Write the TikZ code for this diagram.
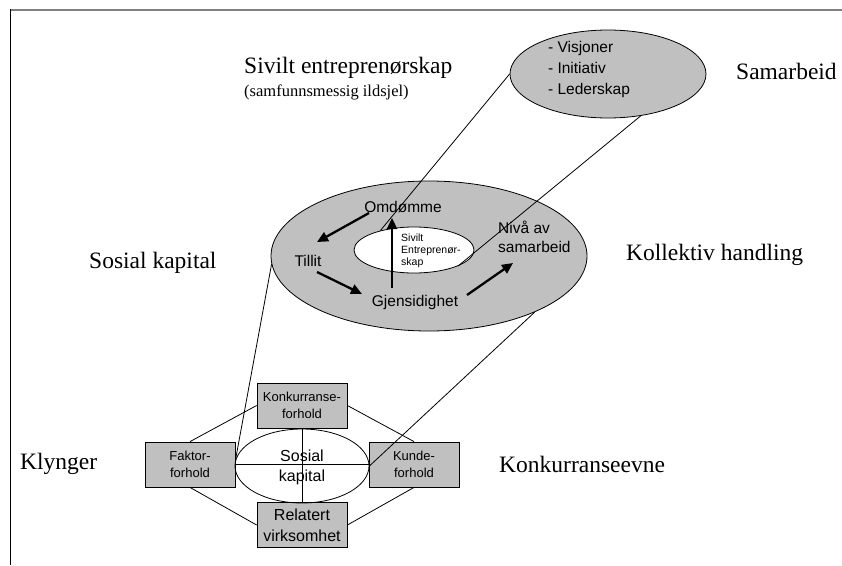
\documentclass[tikz,border=0pt]{standalone}
\usepackage{fontspec}
\setmainfont{Liberation Serif}
\newfontfamily\arial{Liberation Sans}
\usetikzlibrary{shapes.geometric,arrows.meta}
\definecolor{shade}{HTML}{C0C0C0}
\definecolor{rule}{HTML}{808080}
\tikzset{
  serif label/.style={anchor=west,inner sep=0pt,font=\fontsize{23.5}{26}\selectfont},
  sans/.style={inner sep=0pt,font=\arial\fontsize{15.5}{19}\selectfont},
  filled oval/.style={ellipse,draw,fill=shade,line width=0.8pt,inner sep=0pt},
  factor box/.style={draw,fill=shade,line width=0.8pt,minimum width=90pt,minimum height=45pt,
    inner sep=0pt,align=center,font=\arial\fontsize{13}{17}\selectfont},
  thin link/.style={line width=0.8pt},
  cycle arrow/.style={line width=2.3pt,-{Triangle[length=11pt,width=10pt]}},
}
\begin{document}
\begin{tikzpicture}[x=1pt,y=-1pt]
\useasboundingbox (0,0) rectangle (842,565);

% frame
\draw[line width=2pt,color=rule] (10,9.5) -- (842,9.5);
\draw[line width=1.5pt] (10.5,9) -- (10.5,565);

% side headings
\node[serif label] (hsivilt) at (244,68) {Sivilt entreprenørskap};
\node[serif label,font=\fontsize{16.5}{20}\selectfont] (hsivsub) at (244,92) {(samfunnsmessig ildsjel)};
\node[serif label] (hsamarbeid) at (736,71) {Samarbeid};
\node[serif label] (hsosial) at (89,263) {Sosial kapital};
\node[serif label] (hkollektiv) at (626,255) {Kollektiv handling};
\node[serif label] (hklynger) at (20,464) {Klynger};
\node[serif label] (hevne) at (499,464) {Konkurranseevne};

% top oval
\node[filled oval,minimum width=196pt,minimum height=88pt] (top) at (608,74) {};
\node[sans,align=left,font=\arial\fontsize{15.5}{21}\selectfont] (toptext) at (589,69) {- Visjoner\\- Initiativ\\- Lederskap};

% middle ring
\node[filled oval,minimum width=316pt,minimum height=150pt] (ring) at (429,256) {};
\node[ellipse,draw,fill=white,line width=0.8pt,minimum width=120pt,minimum height=46pt] (hole) at (414,250) {};

\node[sans] (omd) at (403,207) {Omdømme};
\node[sans] (till) at (308,261) {Tillit};
\node[sans] (gjen) at (415,302) {Gjensidighet};
\node[sans,anchor=west,align=left] (niva) at (498,237) {Nivå av\\samarbeid};
\node[anchor=west,align=left,inner sep=0pt,font=\arial\fontsize{10.5}{12}\selectfont] (sent) at (401,251) {Sivilt\\Entreprenør-\\skap};

\coordinate (a1s) at (369,213); \coordinate (a1e) at (317,242);
\coordinate (a2s) at (317,272); \coordinate (a2e) at (362,294);
\coordinate (a3s) at (467,295); \coordinate (a3e) at (513,263);
\coordinate (a4s) at (392,288); \coordinate (a4e) at (392,218);
\draw[cycle arrow] (a1s) -- (a1e);
\draw[cycle arrow] (a2s) -- (a2e);
\draw[cycle arrow] (a3s) -- (a3e);
\draw[cycle arrow] (a4s) -- (a4e);

% links from the top oval to the inner hole
\draw[thin link] (hole.150) -- (top.west);
\draw[thin link] (hole.-20) -- (top.-52);

% cluster diamond
\node[factor box] (konk) at (302,405.5) {Konkurranse-\\forhold};
\node[factor box] (fakt) at (190,464.5) {Faktor-\\forhold};
\node[factor box] (kunde) at (414,464.5) {Kunde-\\forhold};
\node[factor box,font=\arial\fontsize{16}{21}\selectfont] (rel) at (302,525) {Relatert\\virksomhet};

\draw[thin link] (fakt.north) -- (konk.west);
\draw[thin link] (konk.east) -- (kunde.north);
\draw[thin link] (fakt.south) -- (rel.west);
\draw[thin link] (rel.east) -- (kunde.south);
\draw[thin link] (fakt.east) -- (kunde.west);
\draw[thin link] (konk.south) -- (rel.north);
\node[ellipse,draw,line width=0.8pt,minimum width=134pt,minimum height=74pt] (core) at (302,466) {};
\node[sans,align=center,font=\arial\fontsize{16}{20}\selectfont] (coretext) at (302,467) {Sosial\\kapital};

% links from the ring to the core oval
\draw[thin link] (ring.183) -- (core.175);
\draw[thin link] (ring.-28) -- (core.east);
\end{tikzpicture}
\end{document}
